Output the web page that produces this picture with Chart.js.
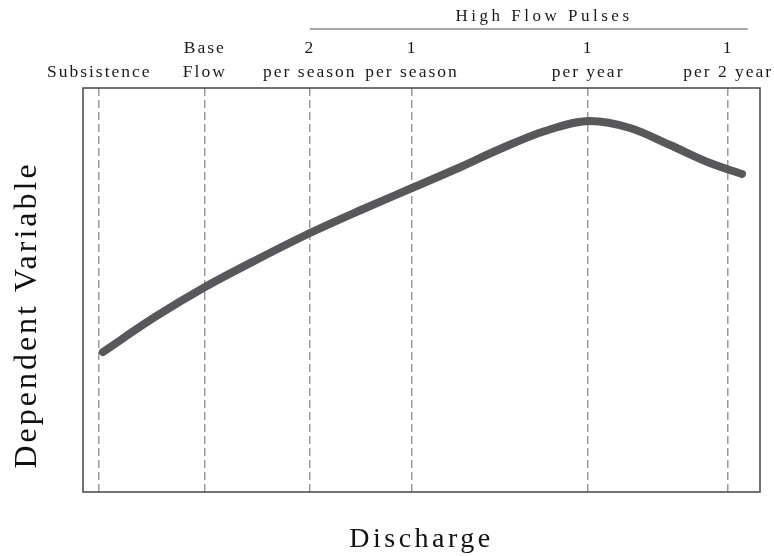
<!DOCTYPE html>
<html><head><meta charset="utf-8">
<script src="https://cdn.jsdelivr.net/npm/chart.js@4"></script>
<style>html,body{margin:0;padding:0;background:#fff;}</style>
</head><body>
<canvas id="c" width="774" height="556"></canvas>
<script>
// ---- data ----
const flowLevels = [2.4, 18.0, 33.5, 48.6, 74.6, 95.3];
const flowLabels = [["Subsistence"], ["Base", "Flow"], ["2", "per season"], ["1", "per season"], ["1", "per year"], ["1", "per 2 year"]];
const discharge = [2.95, 10.64, 18.02, 25.85, 33.53, 41.06, 48.60, 55.10, 61.60, 68.24, 74.89, 80.80, 86.71, 92.61, 97.34];
const response  = [34.65, 43.32, 50.74, 57.67, 64.11, 69.80, 75.25, 79.95, 84.90, 89.36, 91.83, 90.10, 85.89, 81.44, 78.71];
const groupTitle = "High Flow Pulses";
const groupFrom = 33.5, groupTo = 98.2, groupCenter = 68.1;
const xTitle = "Discharge";
const yTitle = "Dependent Variable";

const SERIF = "'Liberation Serif', 'Times New Roman', serif";

const decor = {
  id: 'decor',
  beforeDraw(chart) { chart.ctx.letterSpacing = '2px'; },
  afterDraw(chart) {
    const {ctx, chartArea: a, scales: {x}} = chart;
    ctx.save();
    ctx.setLineDash([]);
    // plot frame
    ctx.strokeStyle = '#444';
    ctx.lineWidth = 1.5;
    ctx.strokeRect(a.left, a.top, a.right - a.left, a.bottom - a.top);
    // group bracket
    ctx.strokeStyle = '#8a8a8a';
    ctx.lineWidth = 1.5;
    ctx.beginPath();
    ctx.moveTo(x.getPixelForValue(groupFrom), a.top - 59);
    ctx.lineTo(x.getPixelForValue(groupTo), a.top - 59);
    ctx.stroke();
    ctx.fillStyle = '#1a1a1a';
    ctx.textAlign = 'center';
    ctx.textBaseline = 'middle';
    ctx.letterSpacing = '3.5px';
    ctx.font = '17px ' + SERIF;
    ctx.fillText(groupTitle, x.getPixelForValue(groupCenter), a.top - 71);
    // x title
    ctx.letterSpacing = '3.5px';
    ctx.font = '28px ' + SERIF;
    ctx.textBaseline = 'alphabetic';
    ctx.fillStyle = '#111';
    ctx.fillText(xTitle, (a.left + a.right) / 2, a.bottom + 55);
    // y title
    ctx.translate(a.left - 55, (a.top + a.bottom) / 2 + 25);
    ctx.rotate(-Math.PI / 2);
    ctx.letterSpacing = '3px';
    ctx.font = '32px ' + SERIF;
    ctx.textBaseline = 'middle';
    ctx.fillText(yTitle, 0, 0);
    ctx.restore();
  }
};

new Chart(document.getElementById('c'), {
  type: 'line',
  data: {
    datasets: [{
      data: discharge.map((d, i) => ({x: d, y: response[i]})),
      borderColor: '#58585b',
      borderWidth: 8,
      borderCapStyle: 'round',
      borderJoinStyle: 'round',
      cubicInterpolationMode: 'monotone',
      pointRadius: 0,
      fill: false
    }]
  },
  options: {
    responsive: false,
    animation: false,
    devicePixelRatio: 1,
    layout: {padding: {left: 83, right: 14, top: 0, bottom: 64}},
    plugins: {legend: {display: false}, tooltip: {enabled: false}},
    scales: {
      x: {
        type: 'linear',
        position: 'top',
        min: 0, max: 100,
        afterBuildTicks: s => { s.ticks = flowLevels.map(v => ({value: v})); },
        afterFit: s => { s.height = 88; s.paddingLeft = 0; s.paddingRight = 0; s.paddingTop = 0; s.paddingBottom = 0; },
        border: {display: false, dash: [8, 4]},
        grid: {
          drawTicks: false,
          color: '#9a9a9a',
          lineWidth: 1.5
        },
        ticks: {
          autoSkip: false,
          maxRotation: 0,
          padding: 4,
          color: '#1a1a1a',
          font: {family: SERIF, size: 17.5, lineHeight: 1.37},
          callback: (v, i) => flowLabels[i]
        }
      },
      y: {
        type: 'linear',
        min: 0, max: 100,
        display: false
      }
    }
  },
  plugins: [decor]
});
</script>
</body></html>
